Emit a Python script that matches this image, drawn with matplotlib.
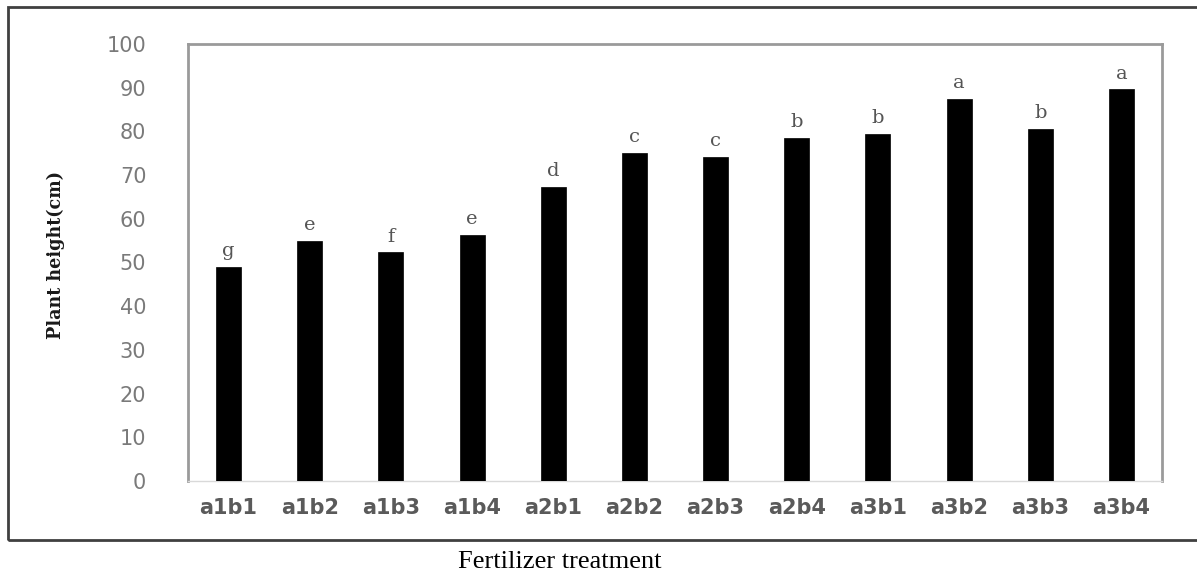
import matplotlib
matplotlib.use("Agg")
import matplotlib.pyplot as plt
from matplotlib.patches import Rectangle

categories = ["a1b1", "a1b2", "a1b3", "a1b4", "a2b1", "a2b2", "a2b3", "a2b4",
              "a3b1", "a3b2", "a3b3", "a3b4"]
heights = [48.9, 55.0, 52.3, 56.4, 67.2, 75.0, 74.1, 78.4, 79.5, 87.5, 80.5, 89.6]
letters = ["g", "e", "f", "e", "d", "c", "c", "b", "b", "a", "b", "a"]
yticks = [0, 10, 20, 30, 40, 50, 60, 70, 80, 90, 100]

fig = plt.figure(figsize=(11.97, 5.73), dpi=100)
ax = fig.add_axes([188/1197, 1-481/573, (1162-188)/1197, (481-44)/573])

x = list(range(len(categories)))
ax.bar(x, heights, width=0.31, color="black", edgecolor="black", linewidth=0.5, zorder=3)
for xi, h, l in zip(x, heights, letters):
    ax.annotate(l, (xi, h), xytext=(0, 5), textcoords="offset points",
                ha="center", va="bottom", fontsize=14, color="#555555",
                family="DejaVu Serif")

ax.set_xlim(-0.5, len(categories) - 0.5)
ax.set_ylim(0, 100)
ax.set_yticks(yticks)
ax.set_yticklabels([str(v) for v in yticks], fontsize=15, color="#7a7a7a",
                   family="DejaVu Sans")
ax.set_xticks(x)
ax.set_xticklabels(categories, fontsize=15, fontweight="bold", color="#5a5a5a",
                   family="DejaVu Sans")
ax.tick_params(axis="y", length=0, pad=30)
ax.tick_params(axis="x", length=0, pad=12)

for s in ["left", "top", "right"]:
    ax.spines[s].set_color("#9a9a9a")
    ax.spines[s].set_linewidth(2)
ax.spines["bottom"].set_color("#d9d9d9")
ax.spines["bottom"].set_linewidth(1)

fig.text(56/1197, 1-255/573, "Plant height(cm)", rotation=90, ha="center", va="center",
         fontsize=14, family="DejaVu Serif", fontstretch="condensed",
         fontweight="bold", color="#1a1a1a")
fig.text(560/1197, 1-562/573, "Fertilizer treatment", ha="center", va="center",
         fontsize=19, family="Liberation Serif", color="black")

fig.patches.append(Rectangle((8/1197, 1-540/573), 1.1, (540-7)/573,
                             transform=fig.transFigure, fill=False,
                             edgecolor="#404040", linewidth=2))

fig.savefig("out.png", dpi=100)
